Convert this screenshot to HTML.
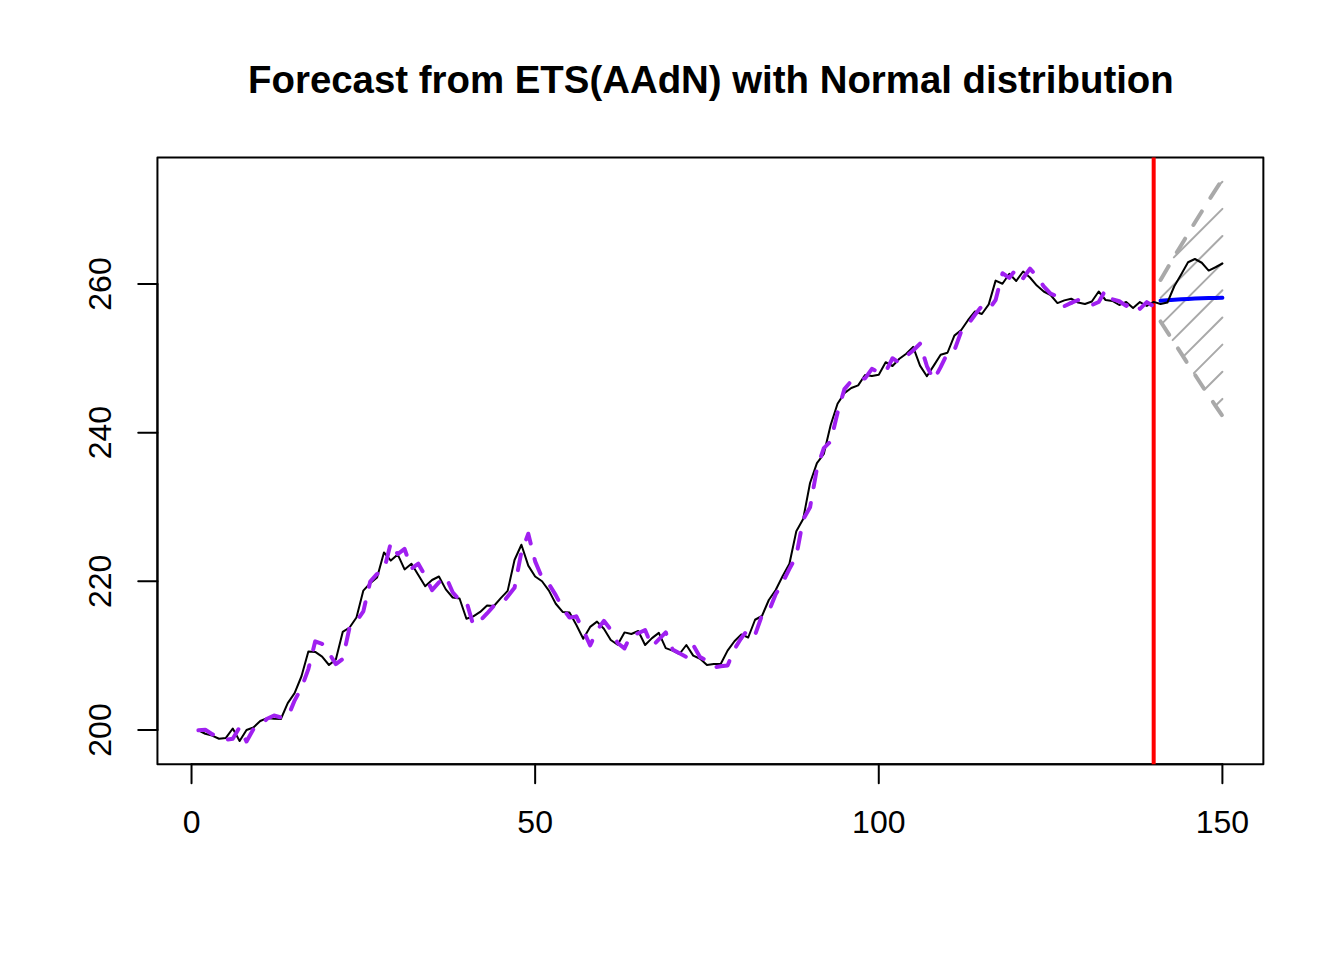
<!DOCTYPE html>
<html lang="en">
<head>
<meta charset="utf-8">
<title>Forecast from ETS(AAdN) with Normal distribution</title>
<style>
html,body{margin:0;padding:0;background:#fff;}
body{width:1344px;height:960px;overflow:hidden;font-family:"Liberation Sans",sans-serif;}
svg text{font-family:"Liberation Sans",sans-serif;}
</style>
</head>
<body>
<svg width="1344" height="960" viewBox="0 0 1344 960" style="display:block">
<rect x="0" y="0" width="1344" height="960" fill="#ffffff"/>
<rect x="157.44" y="157.44" width="1105.92" height="606.72" fill="none" stroke="#000" stroke-width="2" stroke-linejoin="round"/>
<g stroke="#000" stroke-width="2" stroke-linecap="round" fill="none">
<path d="M191.53 764.16H1222.40"/>
<path d="M191.53 764.16v19.2"/>
<path d="M535.15 764.16v19.2"/>
<path d="M878.78 764.16v19.2"/>
<path d="M1222.40 764.16v19.2"/>
<path d="M157.44 730.00V284.00"/>
<path d="M157.44 730.00h-19.2"/>
<path d="M157.44 581.33h-19.2"/>
<path d="M157.44 432.67h-19.2"/>
<path d="M157.44 284.00h-19.2"/>
</g>
<g font-family="'Liberation Sans', sans-serif" font-size="32" fill="#000" text-anchor="middle">
<text x="191.53" y="832.6">0</text>
<text x="535.15" y="832.6">50</text>
<text x="878.78" y="832.6">100</text>
<text x="1222.40" y="832.6">150</text>
<text transform="translate(111.4 730.00) rotate(-90)">200</text>
<text transform="translate(111.4 581.33) rotate(-90)">220</text>
<text transform="translate(111.4 432.67) rotate(-90)">240</text>
<text transform="translate(111.4 284.00) rotate(-90)">260</text>
</g>
<text x="710.9" y="92.6" font-family="'Liberation Sans', sans-serif" font-weight="bold" font-size="38.4" fill="#000" text-anchor="middle">Forecast from ETS(AAdN) with Normal distribution</text>
<path d="M1153.68 157.44V764.16" stroke="#FF0000" stroke-width="4" fill="none"/>
<g stroke="#A9A9A9" stroke-width="2" stroke-linecap="round" fill="none">
<path d="M1218.11 185.99L1222.40 181.70"/>
<path d="M1173.88 257.37L1222.40 208.85"/>
<path d="M1160.55 297.86L1222.40 236.00"/>
<path d="M1161.94 323.62L1222.40 263.16"/>
<path d="M1172.61 340.10L1222.40 290.31"/>
<path d="M1183.26 356.61L1222.40 317.46"/>
<path d="M1193.90 373.11L1222.40 344.62"/>
<path d="M1204.63 389.54L1222.40 371.77"/>
<path d="M1215.50 405.82L1222.40 398.92"/>
</g>
<polyline stroke="#A9A9A9" stroke-width="4" stroke-dasharray="16 16" stroke-linejoin="round" stroke-linecap="round" fill="none" points="1160.55,279.93 1167.42,268.22 1174.29,256.68 1181.17,245.19 1188.04,233.80 1194.91,222.53 1201.78,211.44 1208.66,200.56 1215.53,189.90 1222.40,179.48"/>
<polyline stroke="#A9A9A9" stroke-width="4" stroke-dasharray="16 16" stroke-linejoin="round" stroke-linecap="round" fill="none" points="1160.55,321.47 1167.42,332.10 1174.29,342.71 1181.17,353.37 1188.04,364.05 1194.91,374.68 1201.78,385.22 1208.66,395.63 1215.53,405.87 1222.40,415.92"/>
<polyline fill="none" stroke="#0000FF" stroke-width="4" stroke-linejoin="round" stroke-linecap="round" points="1160.55,300.70 1167.42,300.16 1174.29,299.69 1181.17,299.28 1188.04,298.92 1194.91,298.61 1201.78,298.33 1208.66,298.09 1215.53,297.88 1222.40,297.70"/>
<polyline fill="none" stroke="#000" stroke-width="2" stroke-linejoin="round" stroke-linecap="round" points="198.40,730.25 205.27,733.75 212.14,735.60 219.02,738.75 225.89,737.90 232.76,728.50 239.63,741.00 246.51,730.00 253.38,727.50 260.25,721.00 267.12,718.10 274.00,718.75 280.87,719.00 287.74,703.10 294.61,693.10 301.49,676.25 308.36,651.50 315.23,651.90 322.10,656.60 328.98,665.00 335.85,659.40 342.72,631.90 349.59,627.50 356.47,617.50 363.34,590.60 370.21,583.10 377.08,577.50 383.96,552.50 390.83,560.60 397.70,554.40 404.57,569.40 411.45,563.75 418.32,575.00 425.19,586.25 432.06,580.00 438.94,576.50 445.81,589.40 452.68,597.50 459.55,598.50 466.43,618.75 473.30,616.40 480.17,611.90 487.04,605.60 493.92,606.00 500.79,598.10 507.66,590.90 514.53,560.00 521.41,544.75 528.28,565.60 535.15,576.50 542.02,581.25 548.90,590.60 555.77,603.75 562.64,611.90 569.51,612.50 576.39,625.00 583.26,638.75 590.13,626.90 597.00,621.60 603.88,628.75 610.75,640.00 617.62,644.75 624.49,632.40 631.37,634.00 638.24,631.00 645.11,645.00 651.98,638.10 658.86,632.90 665.73,648.10 672.60,650.60 679.47,654.00 686.35,645.00 693.22,655.60 700.09,658.75 706.96,665.00 713.84,664.00 720.71,664.00 727.58,650.60 734.45,641.25 741.33,634.40 748.20,637.50 755.07,619.75 761.94,616.00 768.82,600.00 775.69,590.00 782.56,576.25 789.43,563.75 796.31,531.25 803.18,519.00 810.05,483.00 816.92,463.10 823.80,454.00 830.67,425.00 837.54,403.75 844.41,393.10 851.29,388.00 858.16,385.40 865.03,375.00 871.90,376.00 878.78,374.75 885.65,362.25 892.52,366.00 899.39,358.75 906.27,353.75 913.14,346.90 920.01,365.60 926.88,376.25 933.76,365.60 940.63,354.75 947.50,352.75 954.37,335.60 961.25,330.00 968.12,320.00 974.99,311.50 981.86,314.00 988.74,304.40 995.61,280.60 1002.48,283.75 1009.35,273.75 1016.23,281.00 1023.10,271.50 1029.97,277.50 1036.84,285.60 1043.72,291.50 1050.59,295.00 1057.46,303.10 1064.33,300.40 1071.21,298.75 1078.08,302.50 1084.95,304.00 1091.82,301.50 1098.70,291.50 1105.57,300.00 1112.44,301.00 1119.31,305.00 1126.19,301.90 1133.06,308.10 1139.93,302.10 1146.80,306.00 1153.68,301.90 1160.55,304.00 1167.42,302.50 1174.29,286.25 1181.17,274.40 1188.04,262.25 1194.91,259.00 1201.78,262.75 1208.66,270.60 1215.53,267.25 1222.40,263.50"/>
<g stroke="#A020F0" stroke-width="4" stroke-dasharray="16 16" stroke-linejoin="round" stroke-linecap="round" fill="none">
<polyline stroke-dashoffset="0.00" points="198.40,730.23 205.27,729.67 212.14,734.23 219.02,736.41 225.89,739.78 232.76,738.77 239.63,727.20 246.51,741.54 253.38,729.27 260.25,725.92 267.12,718.70 274.00,715.50 280.87,717.40 287.74,717.16 294.61,700.58 301.49,687.79 308.36,669.07 315.23,641.32 322.10,643.86 328.98,653.05 335.85,664.17 342.72,658.95 349.59,627.28 356.47,621.22 363.34,611.41 370.21,581.53 377.08,573.95 383.96,570.39 390.83,542.64 397.70,554.12 404.57,548.93 411.45,568.70 418.32,563.67 425.19,575.99 432.06,590.16 438.94,582.42 445.81,576.42 452.68,592.24 459.55,600.29 466.43,601.30 473.30,625.24 480.17,620.70 487.04,613.45 493.92,605.65 500.79,605.25 507.66,596.45 514.53,587.82 521.41,551.90 528.28,533.74 535.15,561.37 542.02,577.78 548.90,584.02 555.77,595.12 562.64,608.29 569.51,617.61 576.39,616.58"/>
<polyline stroke-dashoffset="10.78" points="576.39,616.58 583.26,630.17 590.13,645.53 597.00,630.30 603.88,620.80 610.75,629.47 617.62,642.96 624.49,648.41 631.37,634.11 638.24,633.27 645.11,629.99 651.98,646.57 658.86,639.45 665.73,632.33 672.60,649.54 679.47,653.34 686.35,656.89 693.22,645.16 700.09,657.14 706.96,660.55 713.84,667.47 720.71,666.31 727.58,665.58 734.45,649.01 741.33,638.01"/>
<polyline stroke-dashoffset="9.71" points="741.33,638.01 748.20,629.15 755.07,634.86 761.94,615.30 768.82,611.54 775.69,594.35 782.56,582.57 789.43,568.94 796.31,555.92 803.18,519.32 810.05,507.32 816.92,468.63 823.80,448.14 830.67,441.38 837.54,412.66 844.41,389.13 851.29,380.97 858.16,378.64 865.03,378.44 871.90,368.81 878.78,372.42 885.65,371.96 892.52,358.27 899.39,362.87 906.27,356.19 913.14,350.49 920.01,343.72"/>
<polyline stroke-dashoffset="16.85" points="920.01,343.72 926.88,366.03 933.76,379.94 940.63,367.15 947.50,352.99 954.37,350.39 961.25,331.23 968.12,324.36 974.99,314.76 981.86,306.05 988.74,309.36 995.61,300.05 1002.48,273.28 1009.35,277.81 1016.23,269.02 1023.10,278.21 1029.97,268.70 1036.84,276.21 1043.72,286.32 1050.59,293.71 1057.46,296.32 1064.33,306.20 1071.21,302.84"/>
<polyline stroke-dashoffset="8.44" points="1071.21,302.84 1078.08,300.02 1084.95,303.62 1091.82,305.08 1098.70,301.96 1105.57,289.93 1112.44,299.26 1119.31,301.28 1126.19,305.89 1133.06,302.18 1139.93,308.81 1146.80,302.10 1153.68,306.26"/>
</g>
</svg>
</body>
</html>
